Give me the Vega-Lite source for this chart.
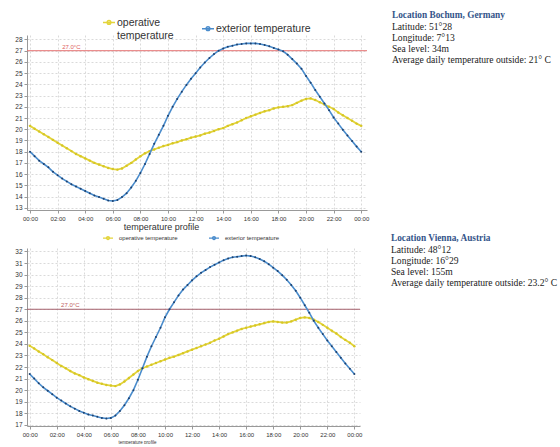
{
  "$schema": "https://vega.github.io/schema/vega-lite/v6.json",
  "padding": {"left": 14, "top": 11, "right": 0, "bottom": 0},
  "background": "white",
  "config": {
    "view": {"stroke": null},
    "font": "Liberation Sans",
    "axis": {
      "grid": true, "gridDash": [2, 2], "gridColor": "#d0d0d0", "gridWidth": 0.8,
      "domainColor": "#999", "tickColor": "#999", "tickSize": 3, "labelOverlap": false,
      "labelFont": "Liberation Sans", "labelColor": "#333",
      "titleFont": "Liberation Sans", "titleFontWeight": "normal", "titleColor": "#333"
    }
  },
  "datasets": {
    "temps": [
      {"minute":0,"bochum_op":20.3,"bochum_ext":18.0,"vienna_op":23.85,"vienna_ext":21.4},
      {"minute":20,"bochum_op":20.05,"bochum_ext":17.6,"vienna_op":23.6,"vienna_ext":21.0},
      {"minute":40,"bochum_op":19.8,"bochum_ext":17.2,"vienna_op":23.35,"vienna_ext":20.6},
      {"minute":60,"bochum_op":19.55,"bochum_ext":16.9,"vienna_op":23.1,"vienna_ext":20.25},
      {"minute":80,"bochum_op":19.3,"bochum_ext":16.6,"vienna_op":22.85,"vienna_ext":19.95},
      {"minute":100,"bochum_op":19.05,"bochum_ext":16.2,"vienna_op":22.6,"vienna_ext":19.65},
      {"minute":120,"bochum_op":18.8,"bochum_ext":15.9,"vienna_op":22.35,"vienna_ext":19.35},
      {"minute":140,"bochum_op":18.55,"bochum_ext":15.6,"vienna_op":22.1,"vienna_ext":19.1},
      {"minute":160,"bochum_op":18.3,"bochum_ext":15.35,"vienna_op":21.9,"vienna_ext":18.85},
      {"minute":180,"bochum_op":18.05,"bochum_ext":15.1,"vienna_op":21.65,"vienna_ext":18.6},
      {"minute":200,"bochum_op":17.8,"bochum_ext":14.9,"vienna_op":21.45,"vienna_ext":18.4},
      {"minute":220,"bochum_op":17.6,"bochum_ext":14.7,"vienna_op":21.3,"vienna_ext":18.2},
      {"minute":240,"bochum_op":17.4,"bochum_ext":14.5,"vienna_op":21.1,"vienna_ext":18.05},
      {"minute":260,"bochum_op":17.2,"bochum_ext":14.3,"vienna_op":20.95,"vienna_ext":17.9},
      {"minute":280,"bochum_op":17.0,"bochum_ext":14.1,"vienna_op":20.8,"vienna_ext":17.8},
      {"minute":300,"bochum_op":16.85,"bochum_ext":13.95,"vienna_op":20.65,"vienna_ext":17.7},
      {"minute":320,"bochum_op":16.7,"bochum_ext":13.8,"vienna_op":20.55,"vienna_ext":17.6},
      {"minute":340,"bochum_op":16.55,"bochum_ext":13.65,"vienna_op":20.45,"vienna_ext":17.55},
      {"minute":360,"bochum_op":16.45,"bochum_ext":13.6,"vienna_op":20.4,"vienna_ext":17.6},
      {"minute":380,"bochum_op":16.4,"bochum_ext":13.7,"vienna_op":20.35,"vienna_ext":17.8},
      {"minute":400,"bochum_op":16.5,"bochum_ext":13.95,"vienna_op":20.5,"vienna_ext":18.2},
      {"minute":420,"bochum_op":16.75,"bochum_ext":14.3,"vienna_op":20.75,"vienna_ext":18.7},
      {"minute":440,"bochum_op":17.0,"bochum_ext":14.8,"vienna_op":21.05,"vienna_ext":19.3},
      {"minute":460,"bochum_op":17.3,"bochum_ext":15.4,"vienna_op":21.35,"vienna_ext":20.0},
      {"minute":480,"bochum_op":17.6,"bochum_ext":16.1,"vienna_op":21.65,"vienna_ext":20.9},
      {"minute":500,"bochum_op":17.85,"bochum_ext":16.9,"vienna_op":21.9,"vienna_ext":21.9},
      {"minute":520,"bochum_op":18.05,"bochum_ext":17.8,"vienna_op":22.05,"vienna_ext":22.9},
      {"minute":540,"bochum_op":18.2,"bochum_ext":18.7,"vienna_op":22.2,"vienna_ext":23.8},
      {"minute":560,"bochum_op":18.35,"bochum_ext":19.5,"vienna_op":22.35,"vienna_ext":24.6},
      {"minute":580,"bochum_op":18.5,"bochum_ext":20.3,"vienna_op":22.5,"vienna_ext":25.4},
      {"minute":600,"bochum_op":18.6,"bochum_ext":21.2,"vienna_op":22.65,"vienna_ext":26.3},
      {"minute":620,"bochum_op":18.75,"bochum_ext":22.0,"vienna_op":22.8,"vienna_ext":27.0},
      {"minute":640,"bochum_op":18.85,"bochum_ext":22.7,"vienna_op":22.9,"vienna_ext":27.6},
      {"minute":660,"bochum_op":19.0,"bochum_ext":23.35,"vienna_op":23.05,"vienna_ext":28.2},
      {"minute":680,"bochum_op":19.1,"bochum_ext":23.95,"vienna_op":23.2,"vienna_ext":28.7},
      {"minute":700,"bochum_op":19.25,"bochum_ext":24.5,"vienna_op":23.35,"vienna_ext":29.1},
      {"minute":720,"bochum_op":19.35,"bochum_ext":25.0,"vienna_op":23.5,"vienna_ext":29.5},
      {"minute":740,"bochum_op":19.45,"bochum_ext":25.5,"vienna_op":23.65,"vienna_ext":29.85},
      {"minute":760,"bochum_op":19.6,"bochum_ext":25.95,"vienna_op":23.8,"vienna_ext":30.15},
      {"minute":780,"bochum_op":19.7,"bochum_ext":26.35,"vienna_op":23.95,"vienna_ext":30.4},
      {"minute":800,"bochum_op":19.85,"bochum_ext":26.7,"vienna_op":24.1,"vienna_ext":30.65},
      {"minute":820,"bochum_op":20.0,"bochum_ext":27.0,"vienna_op":24.3,"vienna_ext":30.85},
      {"minute":840,"bochum_op":20.1,"bochum_ext":27.2,"vienna_op":24.45,"vienna_ext":31.05},
      {"minute":860,"bochum_op":20.3,"bochum_ext":27.35,"vienna_op":24.65,"vienna_ext":31.25},
      {"minute":880,"bochum_op":20.45,"bochum_ext":27.45,"vienna_op":24.85,"vienna_ext":31.4},
      {"minute":900,"bochum_op":20.6,"bochum_ext":27.55,"vienna_op":25.0,"vienna_ext":31.5},
      {"minute":920,"bochum_op":20.8,"bochum_ext":27.6,"vienna_op":25.15,"vienna_ext":31.55},
      {"minute":940,"bochum_op":21.0,"bochum_ext":27.65,"vienna_op":25.3,"vienna_ext":31.6},
      {"minute":960,"bochum_op":21.15,"bochum_ext":27.65,"vienna_op":25.4,"vienna_ext":31.65},
      {"minute":980,"bochum_op":21.3,"bochum_ext":27.65,"vienna_op":25.5,"vienna_ext":31.6},
      {"minute":1000,"bochum_op":21.45,"bochum_ext":27.6,"vienna_op":25.6,"vienna_ext":31.5},
      {"minute":1020,"bochum_op":21.6,"bochum_ext":27.5,"vienna_op":25.7,"vienna_ext":31.35},
      {"minute":1040,"bochum_op":21.7,"bochum_ext":27.4,"vienna_op":25.8,"vienna_ext":31.15},
      {"minute":1060,"bochum_op":21.85,"bochum_ext":27.25,"vienna_op":25.9,"vienna_ext":30.9},
      {"minute":1080,"bochum_op":21.95,"bochum_ext":27.1,"vienna_op":25.95,"vienna_ext":30.6},
      {"minute":1100,"bochum_op":22.0,"bochum_ext":26.95,"vienna_op":25.9,"vienna_ext":30.3},
      {"minute":1120,"bochum_op":22.05,"bochum_ext":26.65,"vienna_op":25.85,"vienna_ext":29.95},
      {"minute":1140,"bochum_op":22.15,"bochum_ext":26.25,"vienna_op":25.85,"vienna_ext":29.55},
      {"minute":1160,"bochum_op":22.35,"bochum_ext":25.85,"vienna_op":25.95,"vienna_ext":29.1},
      {"minute":1180,"bochum_op":22.55,"bochum_ext":25.4,"vienna_op":26.1,"vienna_ext":28.6},
      {"minute":1200,"bochum_op":22.7,"bochum_ext":24.75,"vienna_op":26.25,"vienna_ext":28.0},
      {"minute":1220,"bochum_op":22.75,"bochum_ext":24.15,"vienna_op":26.3,"vienna_ext":27.35},
      {"minute":1240,"bochum_op":22.6,"bochum_ext":23.5,"vienna_op":26.25,"vienna_ext":26.7},
      {"minute":1260,"bochum_op":22.4,"bochum_ext":22.9,"vienna_op":26.1,"vienna_ext":26.0},
      {"minute":1280,"bochum_op":22.2,"bochum_ext":22.3,"vienna_op":25.9,"vienna_ext":25.4},
      {"minute":1300,"bochum_op":22.0,"bochum_ext":21.7,"vienna_op":25.65,"vienna_ext":24.85},
      {"minute":1320,"bochum_op":21.8,"bochum_ext":21.05,"vienna_op":25.4,"vienna_ext":24.3},
      {"minute":1340,"bochum_op":21.5,"bochum_ext":20.5,"vienna_op":25.15,"vienna_ext":23.8},
      {"minute":1360,"bochum_op":21.25,"bochum_ext":19.95,"vienna_op":24.9,"vienna_ext":23.3},
      {"minute":1380,"bochum_op":21.0,"bochum_ext":19.45,"vienna_op":24.6,"vienna_ext":22.8},
      {"minute":1400,"bochum_op":20.75,"bochum_ext":18.95,"vienna_op":24.35,"vienna_ext":22.3},
      {"minute":1420,"bochum_op":20.5,"bochum_ext":18.45,"vienna_op":24.1,"vienna_ext":21.85},
      {"minute":1440,"bochum_op":20.3,"bochum_ext":18.0,"vienna_op":23.8,"vienna_ext":21.4}
    ],
    "threshold": [{"temp": 27, "label": "27.0°C"}]
  },
  "resolve": {"scale": {"color": "independent"}, "legend": {"color": "independent"}},
  "spacing": 1,
  "vconcat": [
    {
      "width": 340,
      "height": 175,
      "title": {
        "text": "Location Bochum, Germany",
        "subtitle": ["Latitude: 51°28", "Longitude: 7°13", "Sea level: 34m", "Average daily temperature outside: 21° C"],
        "orient": "top", "anchor": "end", "align": "left", "baseline": "top", "frame": "group",
        "offset": -46, "dx": 25,
        "font": "Liberation Serif", "fontSize": 9.3, "fontWeight": "bold", "color": "#34558a",
        "subtitleFont": "Liberation Serif", "subtitleFontSize": 9.6, "subtitleColor": "#222",
        "subtitlePadding": 2, "subtitleLineHeight": 11
      },
      "layer": [
        {
          "data": {"name": "threshold"},
          "mark": {"type": "rule", "color": "#e57070", "strokeWidth": 1},
          "encoding": {
            "y": {"field": "temp", "type": "quantitative", "title": null}
          }
        },
        {
          "data": {"name": "threshold"},
          "mark": {"type": "text", "color": "#e06060", "fontSize": 6, "baseline": "bottom", "dy": -1},
          "encoding": {
            "x": {"datum": 180, "type": "quantitative"},
            "y": {"field": "temp", "type": "quantitative", "title": null},
            "text": {"field": "label"}
          }
        },
        {
          "data": {"name": "temps"},
          "mark": {"type": "line", "strokeWidth": 1.8},
          "encoding": {
            "x": {
              "field": "minute", "type": "quantitative",
              "scale": {"domain": [-13, 1465], "nice": false, "zero": false},
              "axis": {
                "values": [0, 120, 240, 360, 480, 600, 720, 840, 960, 1080, 1200, 1320, 1440],
                "tickCount": 100,
                "labelExpr": "(floor(datum.value/60)%24 < 10 ? '0' : '') + (floor(datum.value/60)%24) + ':00'",
                "labelOverlap": false, "labelBound": false,
                "labelFontSize": 6, "title": "temperature profile", "titleFontSize": 9,
                "titleX": 134, "titlePadding": 1
              }
            },
            "y": {
              "field": "bochum_op", "type": "quantitative", "title": null,
              "scale": {"domain": [12.8, 28.4], "nice": false, "zero": false},
              "axis": {"values": [13,14,15,16,17,18,19,20,21,22,23,24,25,26,27,28], "format": "d", "tickCount": 100, "labelOverlap": false, "labelBound": false, "labelFontSize": 6.5}
            },
            "color": {
              "datum": "operative temperature",
              "scale": {"domain": ["operative temperature", "exterior temperature"], "range": ["#e3d43a", "#4a8ccc"]},
              "legend": {
                "orient": "none", "legendX": 75, "legendY": -16, "direction": "horizontal", "title": null,
                "padding": 0, "labelFont": "Liberation Sans", "labelFontSize": 10.5, "labelColor": "#333",
                "labelBaseline": "alphabetic", "labelOffset": 1, "columnPadding": 25,
                "symbolType": "M-1,-0.6H1M0.3,-0.6A0.3,0.3,0,1,1,-0.3,-0.6A0.3,0.3,0,1,1,0.3,-0.6Z",
                "symbolSize": 144, "symbolStrokeWidth": 1.5,
                "labelExpr": "datum.label == 'operative temperature' ? ['operative', 'temperature'] : datum.label"
              }
            }
          }
        },
        {
          "data": {"name": "temps"},
          "mark": {"type": "circle", "size": 6, "color": "#d6c626", "opacity": 1},
          "encoding": {
            "x": {"field": "minute", "type": "quantitative"},
            "y": {"field": "bochum_op", "type": "quantitative", "title": null}
          }
        },
        {
          "data": {"name": "temps"},
          "mark": {"type": "line", "strokeWidth": 1.6},
          "encoding": {
            "x": {"field": "minute", "type": "quantitative"},
            "y": {"field": "bochum_ext", "type": "quantitative", "title": null},
            "color": {"datum": "exterior temperature"}
          }
        },
        {
          "data": {"name": "temps"},
          "mark": {"type": "circle", "size": 4, "color": "#1e416e", "opacity": 1},
          "encoding": {
            "x": {"field": "minute", "type": "quantitative"},
            "y": {"field": "bochum_ext", "type": "quantitative", "title": null}
          }
        }
      ]
    },
    {
      "width": 333,
      "height": 178,
      "title": {
        "text": "Location Vienna, Austria",
        "subtitle": ["Latitude: 48°12", "Longitude: 16°29", "Sea level: 155m", "Average daily temperature outside: 23.2° C"],
        "orient": "top", "anchor": "end", "align": "left", "baseline": "top", "frame": "group",
        "offset": -56, "dx": 31,
        "font": "Liberation Serif", "fontSize": 9.3, "fontWeight": "bold", "color": "#34558a",
        "subtitleFont": "Liberation Serif", "subtitleFontSize": 9.6, "subtitleColor": "#222",
        "subtitlePadding": 2, "subtitleLineHeight": 11
      },
      "layer": [
        {
          "data": {"name": "threshold"},
          "mark": {"type": "rule", "color": "#a5606c", "strokeWidth": 1},
          "encoding": {
            "y": {"field": "temp", "type": "quantitative", "title": null}
          }
        },
        {
          "data": {"name": "threshold"},
          "mark": {"type": "text", "color": "#c06060", "fontSize": 6, "baseline": "bottom", "dy": -1},
          "encoding": {
            "x": {"datum": 180, "type": "quantitative"},
            "y": {"field": "temp", "type": "quantitative", "title": null},
            "text": {"field": "label"}
          }
        },
        {
          "data": {"name": "temps"},
          "mark": {"type": "line", "strokeWidth": 1.8},
          "encoding": {
            "x": {
              "field": "minute", "type": "quantitative",
              "scale": {"domain": [-12, 1465], "nice": false, "zero": false},
              "axis": {
                "values": [0, 120, 240, 360, 480, 600, 720, 840, 960, 1080, 1200, 1320, 1440],
                "tickCount": 100,
                "labelExpr": "(floor(datum.value/60)%24 < 10 ? '0' : '') + (floor(datum.value/60)%24) + ':00'",
                "labelOverlap": false, "labelBound": false,
                "labelFontSize": 6, "title": "temperature profile", "titleFontSize": 4.5,
                "titleX": 110, "titlePadding": 2
              }
            },
            "y": {
              "field": "vienna_op", "type": "quantitative", "title": null,
              "scale": {"domain": [16.9, 32.3], "nice": false, "zero": false},
              "axis": {"values": [17,18,19,20,21,22,23,24,25,26,27,28,29,30,31,32], "format": "d", "tickCount": 100, "labelOverlap": false, "labelBound": false, "labelFontSize": 6.5}
            },
            "color": {
              "datum": "operative temperature",
              "scale": {"domain": ["operative temperature", "exterior temperature"], "range": ["#e3d43a", "#4a8ccc"]},
              "legend": {
                "orient": "none", "legendX": 75, "legendY": -16, "direction": "horizontal", "title": null,
                "padding": 0, "labelFont": "Liberation Sans", "labelFontSize": 6, "labelColor": "#333",
                "labelBaseline": "middle", "labelOffset": 5, "columnPadding": 28,
                "symbolType": "M-1,0H1M0.3,0A0.3,0.3,0,1,1,-0.3,0A0.3,0.3,0,1,1,0.3,0Z",
                "symbolSize": 100, "symbolStrokeWidth": 1.2
              }
            }
          }
        },
        {
          "data": {"name": "temps"},
          "mark": {"type": "circle", "size": 6, "color": "#d6c626", "opacity": 1},
          "encoding": {
            "x": {"field": "minute", "type": "quantitative"},
            "y": {"field": "vienna_op", "type": "quantitative", "title": null}
          }
        },
        {
          "data": {"name": "temps"},
          "mark": {"type": "line", "strokeWidth": 1.6},
          "encoding": {
            "x": {"field": "minute", "type": "quantitative"},
            "y": {"field": "vienna_ext", "type": "quantitative", "title": null},
            "color": {"datum": "exterior temperature"}
          }
        },
        {
          "data": {"name": "temps"},
          "mark": {"type": "circle", "size": 4, "color": "#1e416e", "opacity": 1},
          "encoding": {
            "x": {"field": "minute", "type": "quantitative"},
            "y": {"field": "vienna_ext", "type": "quantitative", "title": null}
          }
        }
      ]
    }
  ]
}
